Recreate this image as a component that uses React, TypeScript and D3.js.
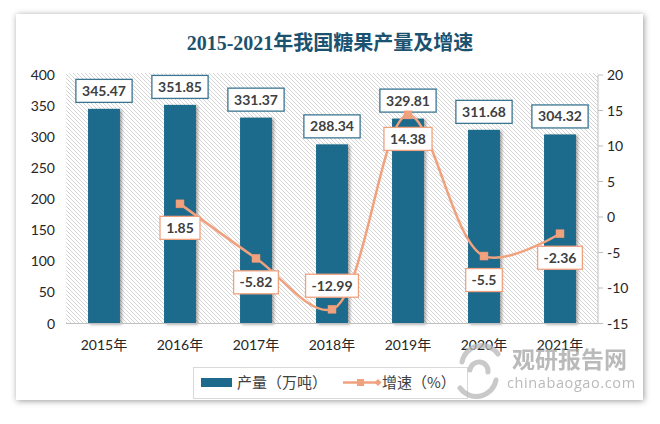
import React from "react";
import * as d3 from "d3";

const years = ["2015年", "2016年", "2017年", "2018年", "2019年", "2020年", "2021年"];
const output = [345.47, 351.85, 331.37, 288.34, 329.81, 311.68, 304.32];
const growth: (number | null)[] = [null, 1.85, -5.82, -12.99, 14.38, -5.5, -2.36];
const leftTicks = [0, 50, 100, 150, 200, 250, 300, 350, 400];
const rightTicks = [-15, -10, -5, 0, 5, 10, 15, 20];
const growthLabelSide = ["below", "below", "below", "above", "below", "below", "below"];

const W = 660;
const H = 424;
const M = { left: 66, right: 598, top: 75, bottom: 323.5 };

const BAR = "#1d6a8c";
const LINE = "#f0a27f";
const TXT = "#404040";
const NUMFONT = "Lato, 'Open Sans', sans-serif";
const CJK = "'Noto Sans CJK SC', sans-serif";

function textW(s: string, fs = 14) {
  let w = 0;
  for (const c of s) {
    if (c === ".") w += 0.26;
    else if (c === "-") w += 0.34;
    else w += 0.58;
  }
  return w * fs;
}

function Label({ x, y, text, stroke }: { x: number; y: number; text: string; stroke: string }) {
  const w = textW(text) + 12;
  const h = 23;
  return (
    <g>
      <rect x={x - w / 2} y={y - h / 2} width={w} height={h} fill="#fff" stroke={stroke} strokeWidth={1.3} />
      <text x={x} y={y + 5} textAnchor="middle" fontFamily={NUMFONT} fontWeight={700} fontSize={14} fill={TXT}>
        {text}
      </text>
    </g>
  );
}

export default function App() {
  const x = d3.scaleBand<string>().domain(years).range([M.left, M.right]).padding(0);
  const yL = d3.scaleLinear().domain([0, 400]).range([M.bottom, M.top]);
  const yR = d3.scaleLinear().domain([-15, 20]).range([M.bottom, M.top]);
  const bw = x.bandwidth() * 0.42;
  const cx = (i: number) => (x(years[i]) as number) + x.bandwidth() / 2;

  const pts = growth
    .map((g, i) => (g === null ? null : ([cx(i), yR(g)] as [number, number])))
    .filter((p): p is [number, number] => p !== null);
  const line = d3.line().curve(d3.curveCatmullRom.alpha(0.5))(pts) || "";

  return (
    <svg width={W} height={H} style={{ position: "fixed", left: 0, top: 0, background: "#fff" }}>
      <defs>
        <pattern id="hatch" patternUnits="userSpaceOnUse" width="4" height="4">
          <path d="M-1,-1 L5,5 M-1,3 L1,5 M3,-1 L5,1" stroke="#cbcbcb" strokeWidth="0.8" />
        </pattern>
        <filter id="card" x="-5%" y="-5%" width="110%" height="110%">
          <feDropShadow dx="1" dy="1" stdDeviation="3" floodColor="#000" floodOpacity="0.4" />
        </filter>
        <filter id="barsh" x="-30%" y="-10%" width="160%" height="120%">
          <feDropShadow dx="2" dy="1" stdDeviation="1.5" floodColor="#000" floodOpacity="0.35" />
        </filter>
      </defs>
      <rect x={16} y={14} width={627} height={386} fill="#fff" filter="url(#card)" />

      <text x={330} y={50} textAnchor="middle" fontFamily="'Liberation Serif', 'Noto Sans CJK SC', serif" fontWeight={600} fontSize={20} fill="#1b5270">
        2015-2021年我国糖果产量及增速
      </text>

      {/* plot background */}
      <rect x={M.left} y={M.top - 2} width={M.right - M.left} height={M.bottom - M.top + 2} fill="url(#hatch)" />

      {/* left axis labels */}
      {leftTicks.map((t) => (
        <text key={t} x={55} y={yL(t) + 5} textAnchor="end" fontFamily={NUMFONT} fontSize={14} fill="#262626">
          {t}
        </text>
      ))}

      {/* right axis */}
      <line x1={M.right} x2={M.right} y1={M.top} y2={M.bottom} stroke="#bfbfbf" strokeWidth={1} />
      {rightTicks.map((t) => (
        <g key={t}>
          <line x1={M.right} x2={M.right + 5} y1={yR(t)} y2={yR(t)} stroke="#bfbfbf" strokeWidth={1} />
          <text x={607} y={yR(t) + 5} textAnchor="start" fontFamily={NUMFONT} fontSize={14} fill="#262626">
            {t}
          </text>
        </g>
      ))}

      {/* bars */}
      {output.map((v, i) => (
        <rect key={i} x={cx(i) - bw / 2} y={yL(v)} width={bw} height={yL(0) - yL(v)} fill={BAR} filter="url(#barsh)" />
      ))}

      {/* baseline */}
      <line x1={M.left} x2={M.right} y1={yL(0)} y2={yL(0)} stroke="#bfbfbf" strokeWidth={1} />

      {/* x labels */}
      {years.map((yv, i) => (
        <text key={yv} x={cx(i)} y={350} textAnchor="middle" fontFamily={`${NUMFONT.split(",")[0]}, ${CJK}`} fontSize={14} fill="#262626">
          {yv}
        </text>
      ))}

      {/* bar labels */}
      {output.map((v, i) => (
        <Label key={i} x={cx(i)} y={yL(v) - 18} text={v.toFixed(2)} stroke="#3a7592" />
      ))}

      {/* growth line */}
      <path d={line} fill="none" stroke={LINE} strokeWidth={2.5} />
      {growth.map((g, i) =>
        g === null ? null : (
          <rect key={i} x={cx(i) - 4} y={yR(g) - 4} width={8} height={8} fill={LINE} stroke="#e8946e" strokeWidth={0.5} />
        )
      )}
      {growth.map((g, i) =>
        g === null ? null : (
          <Label
            key={i}
            x={cx(i)}
            y={yR(g) + (growthLabelSide[i] === "above" ? -23.5 : 24)}
            text={String(g)}
            stroke={LINE}
          />
        )
      )}

      {/* legend */}
      <rect x={193.5} y={367.5} width={274} height={31} fill="#fff" stroke="#d9d9d9" strokeWidth={1} />
      <rect x={201} y={378} width={31} height={9} fill={BAR} />
      <text x={237} y={388} fontFamily={CJK} fontSize={15} fill={TXT}>
        产量（万吨）
      </text>
      <line x1={343} x2={378} y1={382.5} y2={382.5} stroke={LINE} strokeWidth={2.5} />
      <rect x={357} y={379} width={7} height={7} fill={LINE} />
      <path d="M378,379 L381.5,382.5 L378,386 L374.5,382.5 Z" fill={LINE} />
      <text x={382} y={388} fontFamily={CJK} fontSize={15} fill={TXT}>
        增速（%）
      </text>

      {/* watermark */}
      <g opacity={0.75}>
        <g fill="none" stroke="#b8b8b8" strokeWidth={5} strokeLinecap="round">
          <path d="M462,362 A20,20 0 0 1 498,354" />
          <path d="M496,380 A20,20 0 0 1 460,388" />
          <path d="M470,370 A9,9 0 0 1 488,372" />
        </g>
        <text x={512} y={368} fontFamily={CJK} fontWeight={700} fontSize={23} fill="#a3a3a3">
          观研报告网
        </text>
        <text x={507} y={388} fontFamily="'Open Sans', sans-serif" fontSize={14.5} fill="#a3a3a3" letterSpacing={0.6}>
          chinabaogao.com
        </text>
      </g>
    </svg>
  );
}
